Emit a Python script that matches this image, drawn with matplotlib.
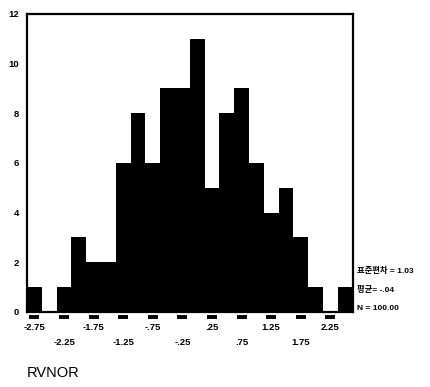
import numpy as np
import matplotlib
matplotlib.use('Agg')
import matplotlib.pyplot as plt

plt.rcParams['font.family'] = ['Liberation Sans', 'Noto Sans CJK KR', 'DejaVu Sans']

# histogram of RVNOR, bins of width .25
bin_centers = [-2.75, -2.5, -2.25, -2.0, -1.75, -1.5, -1.25, -1.0, -0.75, -0.5, -0.25,
               0.0, 0.25, 0.5, 0.75, 1.0, 1.25, 1.5, 1.75, 2.0, 2.25, 2.5]
counts = [1, 0, 1, 3, 2, 2, 6, 8, 6, 9, 9,
          11, 5, 8, 9, 6, 4, 5, 3, 1, 0, 1]

xtick_pos = [-2.75, -2.25, -1.75, -1.25, -0.75, -0.25, 0.25, 0.75, 1.25, 1.75, 2.25]
xtick_labels = ['-2.75', '-2.25', '-1.75', '-1.25', '-.75', '-.25', '.25', '.75', '1.25', '1.75', '2.25']
yticks = [0, 2, 4, 6, 8, 10, 12]

stats = ['표준편차 = 1.03', '평균= -.04', 'N = 100.00']
var_name = 'RVNOR'

fig = plt.figure(figsize=(4.3, 3.87), dpi=100)
ax = fig.add_axes([0.063, 0.194, 0.757, 0.770])

ax.bar(bin_centers, counts, width=0.25, color='black', edgecolor='none')
ax.set_xlim(-2.875, 2.625)
ax.set_ylim(0, 12)

for s in ax.spines.values():
    s.set_linewidth(1.6)
    s.set_color('black')

ax.set_xticks([])
ax.set_yticks(yticks)
ax.set_yticklabels([str(v) for v in yticks], fontsize=6.8, fontweight='bold')
ax.tick_params(axis='y', length=0, pad=6)

# little dashes under the axis plus staggered labels
ax.plot(xtick_pos, [-0.2] * len(xtick_pos), ls='none', marker='_', ms=6.5, mew=2.8,
        color='black', clip_on=False)
for i, (p, lab) in enumerate(zip(xtick_pos, xtick_labels)):
    yy = -0.62 if i % 2 == 0 else -1.22
    ax.text(p, yy, lab, ha='center', va='center', fontsize=6.8, fontweight='bold', clip_on=False)

for k, (t, yf) in enumerate(zip(stats, [0.300, 0.251, 0.204])):
    fig.text(0.830, yf, t, ha='left', va='center', fontsize=6, fontweight='bold')

fig.text(0.063, 0.036, var_name, ha='left', va='center', fontsize=10.5)

fig.savefig('out.png', dpi=100)
